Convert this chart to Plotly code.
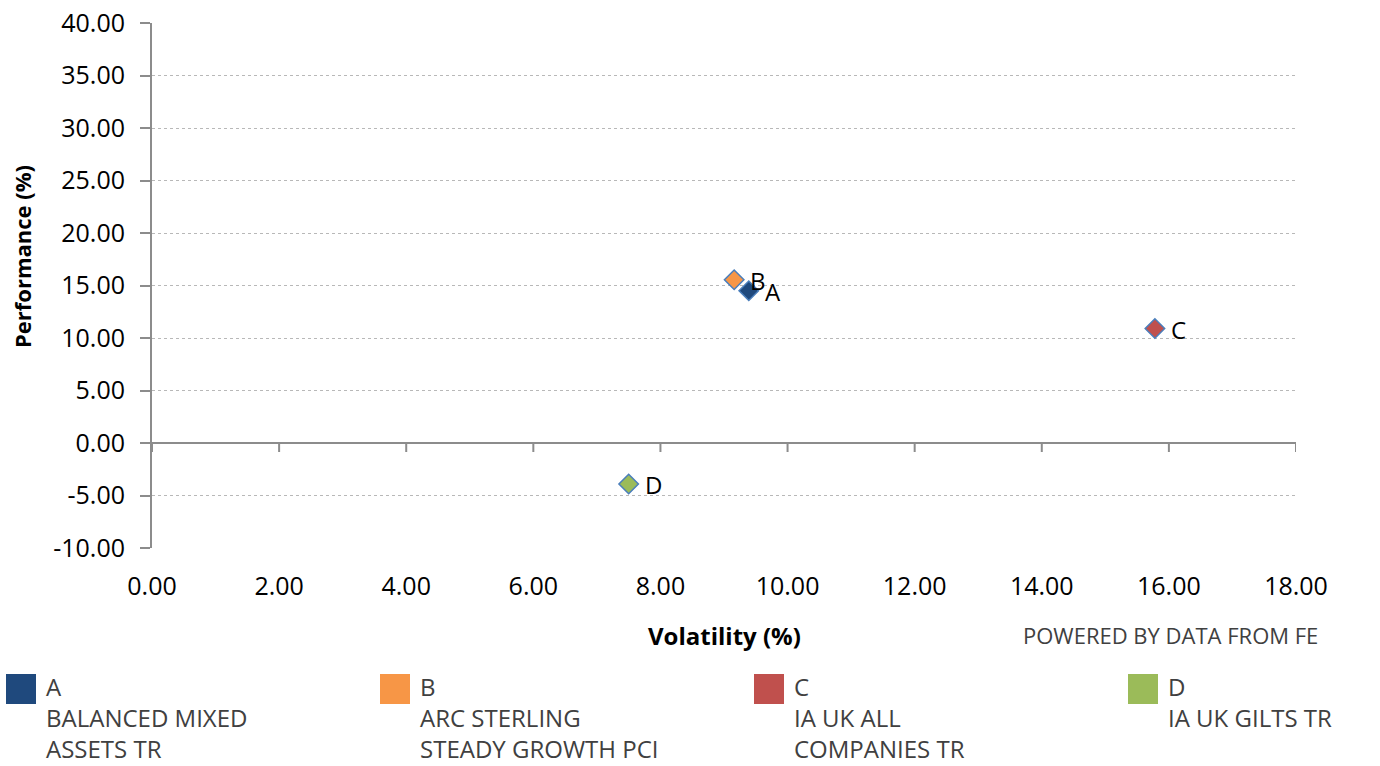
import textwrap
import plotly.graph_objects as go

# ---- data ----
codes = ["A", "B", "C", "D"]
names = ["BALANCED MIXED ASSETS TR", "ARC STERLING STEADY GROWTH PCI",
         "IA UK ALL COMPANIES TR", "IA UK GILTS TR"]
volatility = [9.39, 9.16, 15.78, 7.50]
performance = [14.50, 15.55, 10.90, -3.90]
colors = ["#1F497D", "#F79646", "#C0504D", "#9BBB59"]
x_ticks = [0, 2, 4, 6, 8, 10, 12, 14, 16, 18]
y_ticks = [-10, -5, 0, 5, 10, 15, 20, 25, 30, 35, 40]

W, H = 1380, 766
L, T = 152, 23
R = W - 1296
B = H - 548
PW, PH = W - L - R, H - T - B


def px_x(px):
    return (px - L) / PW


def px_y(py):
    return (H - B - py) / PH


FONT = "Open Sans"
fig = go.Figure()

for c, vx, vy, col in zip(codes, volatility, performance, colors):
    fig.add_trace(go.Scatter(
        x=[vx], y=[vy], mode="markers",
        marker=dict(symbol="diamond", size=15, color=col,
                    line=dict(color="#4A7EBB", width=1.5)),
        showlegend=False, hoverinfo="skip"))

shapes = []
# x tick marks hanging below the zero line
for v in x_ticks:
    shapes.append(dict(type="line", xref="x", yref="y", ysizemode="pixel",
                       yanchor=0, x0=v, x1=v, y0=0, y1=-9,
                       line=dict(color="#8c8c8c", width=2)))

annotations = []
# point labels
for c, vx, vy in zip(codes, volatility, performance):
    annotations.append(dict(text=c, x=vx, y=vy, xref="x", yref="y",
                            xanchor="left", yanchor="middle", xshift=14, yshift=-1,
                            showarrow=False,
                            font=dict(family=FONT, size=24, color="#000000")))

# custom legend
col_x = [6, 380, 754, 1128]
for i, (c, n, col) in enumerate(zip(codes, names, colors)):
    x0 = col_x[i]
    shapes.append(dict(type="rect", xref="paper", yref="paper",
                       x0=px_x(x0), x1=px_x(x0 + 30), y0=px_y(704), y1=px_y(674),
                       fillcolor=col, line=dict(width=0)))
    lines = [c] + textwrap.wrap(n, 17)
    annotations.append(dict(
        text="<br>".join(lines), xref="paper", yref="paper", x=px_x(x0 + 38),
        y=px_y(668), xanchor="left", yanchor="top", align="left",
        showarrow=False,
        font=dict(family=FONT, size=24, color="#404040")))

annotations.append(dict(text="<b>Volatility (%)</b>", xref="paper", yref="paper",
                        x=px_x(724), y=px_y(635), xanchor="center", yanchor="middle",
                        showarrow=False, font=dict(family=FONT, size=24, color="#000")))
annotations.append(dict(text="<b>Performance (%)</b>", xref="paper", yref="paper",
                        x=px_x(22), y=px_y(257), xanchor="center", yanchor="middle",
                        textangle=-90, showarrow=False,
                        font=dict(family=FONT, size=22, color="#000")))
annotations.append(dict(text="POWERED BY DATA FROM FE", xref="paper", yref="paper",
                        x=px_x(1320), y=px_y(635), xanchor="right", yanchor="middle",
                        showarrow=False, font=dict(family=FONT, size=22, color="#404040")))

fig.update_layout(
    template="none",
    width=W, height=H,
    margin=dict(l=L, r=R, t=T, b=B, autoexpand=False),
    paper_bgcolor="white", plot_bgcolor="white",
    shapes=shapes, annotations=annotations,
    xaxis=dict(range=[0, 18], tickvals=x_ticks,
               ticktext=[f"{v:.2f}" for v in x_ticks],
               showgrid=False, zeroline=False, showline=False, ticks="",
               automargin=False, ticklabelstandoff=21,
               tickfont=dict(family=FONT, size=25, color="#000")),
    yaxis=dict(range=[-10, 40], tickvals=y_ticks,
               ticktext=[f"{v:.2f}" for v in y_ticks],
               showgrid=True, gridcolor="#b8b8b8", griddash="dot", gridwidth=1,
               zeroline=True, zerolinecolor="#8c8c8c", zerolinewidth=2,
               showline=True, linecolor="#8c8c8c", linewidth=2,
               ticks="outside", ticklen=10, tickcolor="#8c8c8c", tickwidth=2,
               automargin=False, ticklabelstandoff=10,
               tickfont=dict(family=FONT, size=25, color="#000")),
)

fig.write_html("out.html",
               config={"displayModeBar": False},
               post_script="document.body.style.margin='0';"
                           "document.body.style.overflow='hidden';")
